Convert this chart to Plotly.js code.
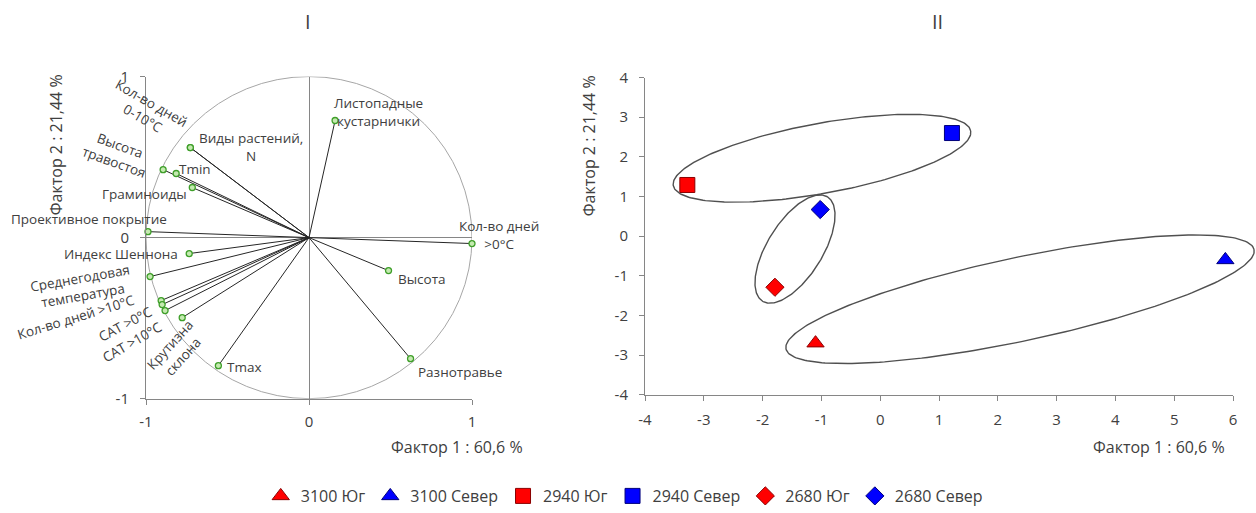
<!DOCTYPE html>
<html>
<head>
<meta charset="utf-8">
<script src="https://cdn.plot.ly/plotly-3.0.1.min.js"></script>
<style>html,body{margin:0;padding:0;background:#fff;}#chart{width:1256px;height:513px;}</style>
</head>
<body>
<div id="chart"></div>
<script>
// ---------- Panel I : factor loadings ----------
const loadingNames = [
  "Листопадные<br>кустарнички", "Виды растений,<br>N", "Кол-во дней<br>0-10°C",
  "Высота<br>травостоя", "Tmin", "Граминоиды", "Проективное покрытие",
  "Индекс Шеннона", "Среднегодовая<br>температура", "Кол-во дней >10°C",
  "САТ >0°C", "САТ >10°C", "Крутизна<br>склона", "Tmax",
  "Кол-во дней<br>>0°C", "Высота", "Разнотравье"
];
const loadingF1 = [0.16, -0.728, -0.728, -0.895, -0.815, -0.716, -0.988, -0.735, -0.975, -0.907, -0.901, -0.883, -0.778, -0.556, 1.0, 0.488, 0.623];
const loadingF2 = [0.727, 0.559, 0.559, 0.422, 0.398, 0.311, 0.037, -0.099, -0.242, -0.391, -0.416, -0.453, -0.497, -0.795, -0.037, -0.205, -0.752];
const loadingTicks = [-1, 0, 1];
const loadingTickText = ["-1", "0", "1"];

// label placement (pixel offsets from point, rotation) - layout only
const labelDx = [43, 61, -43, -46, 19, -48, -59, -68, -69, -85, -37, -33, -6, 26, 27, 33, 49];
const labelDy = [-9, -1, -37, -16, -4, 6, -13, 0, 10, 16, 19, 31, 33, 1, -9, 8, 13];
const labelRot = [0, 0, 30, 20, 0, 0, 0, 0, -10, -17, -28, -30, -48, 0, 0, 0, 0];

// ---------- Panel II : factor scores ----------
const groupNames = ["3100 Юг", "3100 Север", "2940 Юг", "2940 Север", "2680 Юг", "2680 Север"];
const scoreF1 = [-1.1, 5.87, -3.28, 1.22, -1.79, -1.02];
const scoreF2 = [-2.7, -0.6, 1.29, 2.6, -1.29, 0.67];
const groupSymbols = ["triangle-up", "triangle-up", "square", "square", "diamond", "diamond"];
const groupColors = ["#ff0000", "#0000ff", "#ff0000", "#0000ff", "#ff0000", "#0000ff"];
const groupBorders = ["#8a0000", "#00007a", "#8a0000", "#00007a", "#8a0000", "#00007a"];
const scoreXTicks = [-4, -3, -2, -1, 0, 1, 2, 3, 4, 5, 6];
const scoreXTickText = ["-4", "-3", "-2", "-1", "0", "1", "2", "3", "4", "5", "6"];
const scoreYTicks = [-4, -3, -2, -1, 0, 1, 2, 3, 4];
const scoreYTickText = ["-4", "-3", "-2", "-1", "0", "1", "2", "3", "4"];

// group outlines: centre (cx, cy) and conjugate half-axis vectors U, V (data units)
const ellipseCx = [-0.99, -1.449, 2.378];
const ellipseCy = [1.964, -0.326, -1.592];
const ellipseUx = [2.529, 0.551, 3.98];
const ellipseUy = [0.69, 1.317, 1.254];
const ellipseVx = [0.109, 0.4, 0.149];
const ellipseVy = [-0.868, -0.364, -1.03];

const FONT = "Open Sans, Noto Sans, sans-serif";
const TXT = "#404040";
const AX = "#868686";
const W = 1256, H = 513;
function px(x) { return x / W; }
function py(y) { return 1 - y / H; }

// panel II plot box (pixels) and an overlay axis that extends to the page edge with the same scale
const x2Range = [-4, 6];
const x2Box = [645, 1233];
const x3Box = [645, 1256];
const x3Range = [x2Range[0], x2Range[0] + (x2Range[1] - x2Range[0]) * (x3Box[1] - x3Box[0]) / (x2Box[1] - x2Box[0])];

const traces = [];
// vectors
const vx = [], vy = [];
loadingF1.forEach((x, i) => { vx.push(0, x, null); vy.push(0, loadingF2[i], null); });
traces.push({type: "scatter", mode: "lines", x: vx, y: vy, xaxis: "x", yaxis: "y",
  line: {color: "#262626", width: 1}, showlegend: false, hoverinfo: "skip"});
traces.push({type: "scatter", mode: "markers", x: loadingF1, y: loadingF2, xaxis: "x", yaxis: "y",
  marker: {size: 6, color: "#c4eab0", line: {color: "#3f9f2a", width: 1.3}}, showlegend: false,
  text: loadingNames, hoverinfo: "text", cliponaxis: false});

// ellipses (drawn on the overlay axis so that they may run past x = 6)
for (let k = 0; k < ellipseCx.length; k++) {
  const ex = [], ey = [];
  for (let j = 0; j <= 240; j++) {
    const t = 2 * Math.PI * j / 240;
    ex.push(ellipseCx[k] + ellipseUx[k] * Math.cos(t) + ellipseVx[k] * Math.sin(t));
    ey.push(ellipseCy[k] + ellipseUy[k] * Math.cos(t) + ellipseVy[k] * Math.sin(t));
  }
  traces.push({type: "scatter", mode: "lines", x: ex, y: ey, xaxis: "x3", yaxis: "y3",
    line: {color: "#505050", width: 1.4}, showlegend: false, hoverinfo: "skip"});
}
// group points
groupNames.forEach((g, i) => {
  const sz = groupSymbols[i] === "square" ? 15 : (groupSymbols[i] === "diamond" ? 14 : 15);
  traces.push({type: "scatter", mode: "markers", name: g, x: [scoreF1[i]], y: [scoreF2[i]],
    xaxis: "x2", yaxis: "y2", cliponaxis: false,
    marker: {symbol: groupSymbols[i], size: sz, color: groupColors[i], line: {color: groupBorders[i], width: 1}}});
});

const annotations = [];
loadingNames.forEach((n, i) => {
  annotations.push({x: loadingF1[i], y: loadingF2[i], xref: "x", yref: "y", text: n, showarrow: false,
    xanchor: "center", yanchor: "middle",
    xshift: labelDx[i], yshift: -labelDy[i], textangle: labelRot[i],
    font: {family: FONT, size: 13.5, color: TXT}});
});
function paperText(x, y, text, size, angle) {
  return {x: px(x), y: py(y), xref: "paper", yref: "paper", text: text, showarrow: false,
    xanchor: "center", yanchor: "middle", textangle: angle || 0,
    font: {family: FONT, size: size, color: TXT}};
}
annotations.push(paperText(308, 22, "I", 20));
annotations.push(paperText(937, 22, "II", 20));
annotations.push(paperText(56, 145, "Фактор 2 : 21,44 %", 16, -90));
annotations.push(paperText(589, 147, "Фактор 2 : 21,44 %", 16, -90));
annotations.push(paperText(457, 450, "Фактор 1 : 60,6 %", 16));
annotations.push(paperText(1159, 450, "Фактор 1 : 60,6 %", 16));

const axBase = {showgrid: false, showline: true, linecolor: AX, linewidth: 1, ticks: "outside",
  ticklen: 5, tickcolor: AX, tickfont: {family: FONT, size: 15, color: TXT}, fixedrange: true};

const layout = {
  width: W, height: H, margin: {l: 0, r: 0, t: 0, b: 0}, paper_bgcolor: "#fff", plot_bgcolor: "rgba(0,0,0,0)",
  font: {family: FONT, color: TXT},
  xaxis: Object.assign({}, axBase, {domain: [px(146), px(472)], range: [-1, 1], tickmode: "array",
    tickvals: loadingTicks, ticktext: loadingTickText,
    zeroline: true, zerolinecolor: AX, zerolinewidth: 1, anchor: "y", ticklabelstandoff: 4}),
  yaxis: Object.assign({}, axBase, {domain: [py(401), py(77)], range: [-1, 1], tickmode: "array",
    tickvals: loadingTicks, ticktext: loadingTickText,
    zeroline: true, zerolinecolor: AX, zerolinewidth: 1, anchor: "x", ticklabelstandoff: 8}),
  xaxis2: Object.assign({}, axBase, {domain: [px(x2Box[0]), px(x2Box[1])], range: x2Range, tickmode: "array",
    tickvals: scoreXTicks, ticktext: scoreXTickText, zeroline: false, anchor: "y2", ticklabelstandoff: 6}),
  yaxis2: Object.assign({}, axBase, {domain: [py(397), py(78)], range: [-4, 4], tickmode: "array",
    tickvals: scoreYTicks, ticktext: scoreYTickText, zeroline: false, anchor: "x2", ticklabelstandoff: 8}),
  xaxis3: {domain: [px(x3Box[0]), px(x3Box[1])], range: x3Range, visible: false, anchor: "y3", fixedrange: true},
  yaxis3: {domain: [py(397), py(78)], range: [-4, 4], visible: false, anchor: "x3", fixedrange: true},
  shapes: [{type: "circle", xref: "x", yref: "y", x0: -1, x1: 1, y0: -1, y1: 1,
    line: {color: "#a6a6a6", width: 1}, layer: "below"}],
  annotations: annotations,
  showlegend: true,
  legend: {orientation: "h", x: 0.497, xanchor: "center", y: py(499), yanchor: "middle",
    font: {family: FONT, size: 16, color: TXT}, itemsizing: "trace", bgcolor: "rgba(0,0,0,0)"}
};

Plotly.newPlot("chart", traces, layout, {displayModeBar: false, staticPlot: true});
</script>
</body>
</html>
